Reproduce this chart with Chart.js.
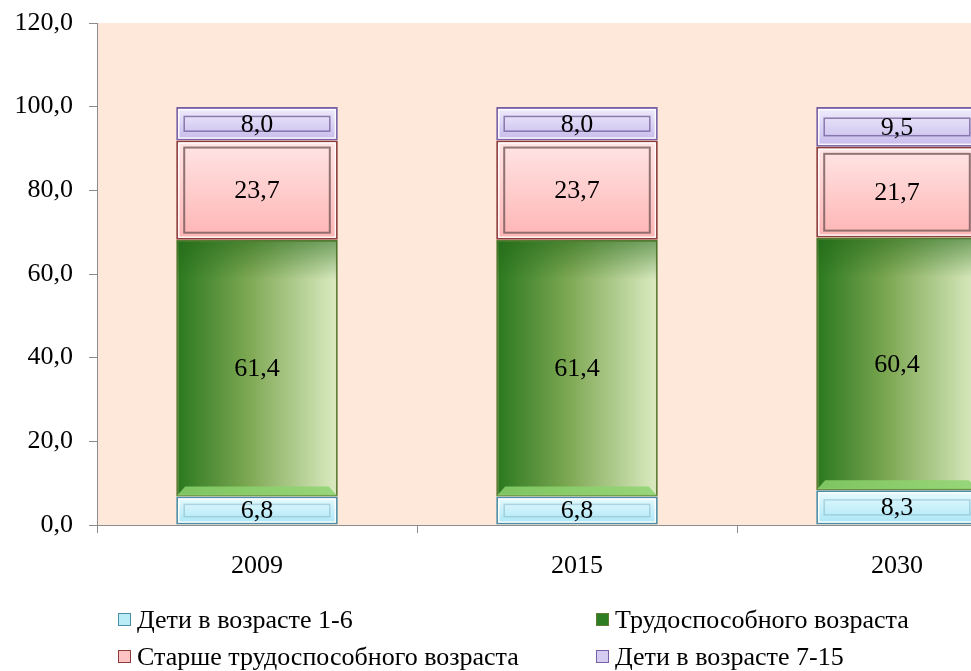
<!DOCTYPE html>
<html>
<head>
<meta charset="utf-8">
<script src="https://cdn.jsdelivr.net/npm/chart.js@4/dist/chart.umd.min.js"></script>
<style>
  html, body { margin: 0; padding: 0; background: #ffffff; overflow: hidden; width: 971px; height: 671px; }
  #wrap { position: relative; width: 1060px; height: 671px; }
  #legend { position: absolute; left: 0; top: 0; width: 971px; height: 671px; pointer-events: none;
            font-family: "Liberation Serif", "Times New Roman", serif; font-size: 26px; color: #000; }
  .item { position: absolute; white-space: nowrap; line-height: 28px; }
  .sw { display: inline-block; width: 11px; height: 11px; margin-right: 6px; vertical-align: 2px; border: 1px solid; }
</style>
</head>
<body>
<div id="wrap">
  <canvas id="c" width="1060" height="671"></canvas>
  <div id="legend"></div>
</div>
<script>
// ---- data ----
const categories = ["2009", "2015", "2030"];
const seriesNames = ["Дети в возрасте 1-6", "Трудоспособного возраста", "Старше трудоспособного возраста", "Дети в возрасте 7-15"];
const kids1to6   = [6.8, 6.8, 8.3];
const workingAge = [61.4, 61.4, 60.4];
const elderly    = [23.7, 23.7, 21.7];
const kids7to15  = [8.0, 8.0, 9.5];
const yTicks = [0, 20, 40, 60, 80, 100, 120];

// ---- styles ----
const styles = [
  { light: "#e8fbff", dark: "#a9e6f5", border: "#4d8ea6", inner: "rgba(120,170,190,0.45)", dir: "v" },
  { light: "#d9e9bd", dark: "#2a7a1f", border: "#5f7d34", inner: "rgba(200,240,170,0.0)", dir: "h" },
  { light: "#ffe6e6", dark: "#ffb4b4", border: "#8e3b3b", inner: "rgba(125,95,95,0.85)", dir: "v" },
  { light: "#f1edfc", dark: "#c6bbec", border: "#7760a6", inner: "rgba(110,90,150,0.75)", dir: "v" }
];
const fmt = v => v.toFixed(1).replace(".", ",");
const serif = "'Liberation Serif', 'Times New Roman', serif";
const FONT_SIZE = 26;

function barFill(idx) {
  return function (ctx) {
    const chart = ctx.chart;
    const st = styles[idx];
    if (!chart.chartArea || !chart.scales.x || ctx.type !== "data") return st.dark;
    const xs = chart.scales.x, ys = chart.scales.y;
    const cx = xs.getPixelForValue(ctx.dataIndex);
    const half = (xs.width / categories.length) * 0.505 / 2;
    const c = chart.ctx;
    let g;
    if (st.dir === "h") {
      g = c.createLinearGradient(cx - half, 0, cx + half, 0);
      g.addColorStop(0, "#2a781e");
      g.addColorStop(0.45, "#7ea853");
      g.addColorStop(1, "#dcebc2");
    } else {
      let start = 0;
      for (let d = 0; d < ctx.datasetIndex; d++) start += chart.data.datasets[d].data[ctx.dataIndex];
      const v = chart.data.datasets[ctx.datasetIndex].data[ctx.dataIndex];
      const top = ys.getPixelForValue(start + v), bot = ys.getPixelForValue(start);
      g = c.createLinearGradient(0, top, 0, bot);
      g.addColorStop(0, st.light);
      g.addColorStop(1, st.dark);
    }
    return g;
  };
}

const plotBg = {
  id: "plotBg",
  beforeDraw(chart) {
    const { ctx, chartArea: a } = chart;
    ctx.save();
    ctx.fillStyle = "#fde8d9";
    ctx.fillRect(a.left, a.top, a.right - a.left, a.bottom - a.top);
    ctx.restore();
  }
};

const bevelAndLabels = {
  id: "bevelAndLabels",
  afterDatasetsDraw(chart) {
    const ctx = chart.ctx;
    chart.data.datasets.forEach((ds, di) => {
      const meta = chart.getDatasetMeta(di);
      meta.data.forEach((bar, i) => {
        const p = bar.getProps(["x", "y", "base", "width"], true);
        const left = p.x - p.width / 2, right = p.x + p.width / 2;
        const top = Math.min(p.y, p.base), bot = Math.max(p.y, p.base);
        const h = bot - top;
        ctx.save();
        if (di === 1) {
          const tg = ctx.createLinearGradient(0, top, 0, top + 40);
          tg.addColorStop(0, "rgba(30,100,20,0.55)");
          tg.addColorStop(1, "rgba(30,100,20,0)");
          ctx.fillStyle = tg;
          ctx.fillRect(left + 1, top + 1, p.width - 2, 40);
          ctx.fillStyle = "rgba(140,210,110,0.85)";
          ctx.beginPath();
          ctx.moveTo(left + 1, bot - 1);
          ctx.lineTo(left + 9, bot - 10);
          ctx.lineTo(right - 9, bot - 10);
          ctx.lineTo(right - 1, bot - 1);
          ctx.closePath();
          ctx.fill();
        } else {
          const inset = 8;
          const iy = di === 2 ? 7 : Math.max(4, h * 0.28);
          ctx.strokeStyle = "rgba(255,255,255,0.85)";
          ctx.lineWidth = 1.5;
          ctx.strokeRect(left + 2.5, top + 2.5, p.width - 5, h - 5);
          ctx.strokeStyle = styles[di].inner;
          ctx.lineWidth = di === 2 ? 2 : 1.5;
          ctx.strokeRect(left + inset, top + iy, p.width - 2 * inset, h - 2 * iy);
        }
        ctx.fillStyle = "#000";
        ctx.font = FONT_SIZE + "px " + serif;
        ctx.textAlign = "center";
        ctx.textBaseline = "middle";
        ctx.fillText(fmt(ds.data[i]), p.x, (top + bot) / 2 + 1);
        ctx.restore();
      });
    });
  }
};

const seriesData = [kids1to6, workingAge, elderly, kids7to15];
const datasets = seriesNames.map((name, i) => ({
  label: name,
  data: seriesData[i],
  backgroundColor: barFill(i),
  borderColor: styles[i].border,
  borderWidth: 2,
  borderSkipped: false,
  categoryPercentage: 1.0,
  barPercentage: 0.505
}));

new Chart(document.getElementById("c"), {
  type: "bar",
  data: { labels: categories, datasets },
  options: {
    responsive: false,
    animation: false,
    devicePixelRatio: 1,
    layout: { padding: { top: 23, right: 3, left: 0, bottom: 0 } },
    plugins: { legend: { display: false }, tooltip: { enabled: false } },
    scales: {
      x: {
        stacked: true,
        grid: { display: true, drawOnChartArea: false, offset: true, tickLength: 8, color: "#8c8c8c", lineWidth: 1 },
        border: { display: true, color: "#8c8c8c", width: 1 },
        ticks: { color: "#000", font: { family: serif, size: FONT_SIZE }, padding: 18 },
        afterFit(s) { s.height = 146; s.paddingLeft = 0; s.paddingRight = 0; }
      },
      y: {
        stacked: true,
        min: 0, max: 120,
        afterBuildTicks(s) { s.ticks = yTicks.map(v => ({ value: v })); },
        grid: { display: true, drawOnChartArea: false, tickLength: 8, color: "#8c8c8c" },
        border: { display: true, color: "#8c8c8c", width: 1 },
        ticks: { color: "#000", font: { family: serif, size: FONT_SIZE }, padding: 16, callback: v => fmt(v) },
        afterFit(s) { s.width = 97; s.paddingTop = 0; s.paddingBottom = 0; }
      }
    }
  },
  plugins: [plotBg, bevelAndLabels]
});

// HTML legend (2 x 2 grid)
const legendPos = [
  { left: 118, top: 606 }, { left: 596, top: 606 },
  { left: 118, top: 643 }, { left: 596, top: 643 }
];
const swatch = ["#b9ecf7", "#2f7d22", "#ffc3c3", "#d5ccf2"];
const lg = document.getElementById("legend");
seriesNames.forEach((n, i) => {
  const d = document.createElement("div");
  d.className = "item";
  d.style.left = legendPos[i].left + "px";
  d.style.top = legendPos[i].top + "px";
  const s = document.createElement("span");
  s.className = "sw";
  s.style.background = swatch[i];
  s.style.borderColor = styles[i].border;
  d.appendChild(s);
  d.appendChild(document.createTextNode(n));
  lg.appendChild(d);
});
</script>
</body>
</html>
